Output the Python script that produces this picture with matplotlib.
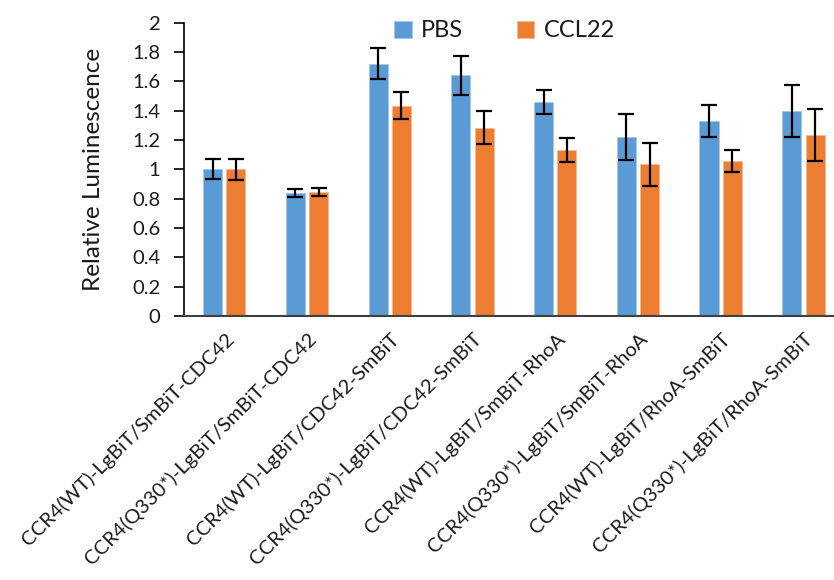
import matplotlib
matplotlib.use("Agg")
import matplotlib.pyplot as plt
import numpy as np

categories = [
    "CCR4(WT)-LgBiT/SmBiT-CDC42",
    "CCR4(Q330*)-LgBiT/SmBiT-CDC42",
    "CCR4(WT)-LgBiT/CDC42-SmBiT",
    "CCR4(Q330*)-LgBiT/CDC42-SmBiT",
    "CCR4(WT)-LgBiT/SmBiT-RhoA",
    "CCR4(Q330*)-LgBiT/SmBiT-RhoA",
    "CCR4(WT)-LgBiT/RhoA-SmBiT",
    "CCR4(Q330*)-LgBiT/RhoA-SmBiT",
]
pbs = [1.00, 0.84, 1.72, 1.64, 1.46, 1.22, 1.33, 1.40]
pbs_err = [0.068, 0.026, 0.105, 0.13, 0.083, 0.157, 0.109, 0.177]
ccl22 = [1.00, 0.845, 1.435, 1.285, 1.13, 1.036, 1.057, 1.236]
ccl22_err = [0.07, 0.03, 0.09, 0.115, 0.082, 0.147, 0.077, 0.176]
yticks = [0, 0.2, 0.4, 0.6, 0.8, 1, 1.2, 1.4, 1.6, 1.8, 2]
ytick_labels = ["0", "0.2", "0.4", "0.6", "0.8", "1", "1.2", "1.4", "1.6", "1.8", "2"]

plt.rcParams['font.family'] = ['Lato', 'DejaVu Sans']
txtc = '#1a1a1a'

fig = plt.figure(figsize=(8.34, 5.80), dpi=100)
ax = fig.add_axes([184/834, (580-316)/580, (834-184)/834, (316-22.7)/580])

x = np.arange(len(categories))
w = 0.23
off = 0.141
ek = dict(ecolor='black', elinewidth=1.6, capsize=5.5, capthick=1.6)
ax.bar(x - off, pbs, w, yerr=pbs_err, color='#5B9BD5', edgecolor='#A9C8EA', linewidth=0.6,
       label='PBS', error_kw=ek, zorder=2)
ax.bar(x + off, ccl22, w, yerr=ccl22_err, color='#ED7D31', edgecolor='#F5B993', linewidth=0.6,
       label='CCL22', error_kw=ek, zorder=2)

ax.set_xlim(-0.487, 7.37)
ax.set_ylim(0, 2)
ax.set_yticks(yticks)
ax.set_yticklabels(ytick_labels, fontsize=14.5, color=txtc)
ax.set_xticks(x)
ax.set_xticklabels(categories, rotation=45, ha='right', rotation_mode='anchor',
                   fontsize=14.5, color=txtc)
ax.tick_params(axis='x', length=0, pad=10)
ax.tick_params(axis='y', length=7, width=1.2, pad=10, direction='out')
for s in ['top', 'right']:
    ax.spines[s].set_visible(False)
ax.spines['left'].set_color('black')
ax.spines['left'].set_linewidth(1.2)
ax.spines['bottom'].set_color('#404040')
ax.spines['bottom'].set_linewidth(1.5)
ax.set_ylabel('Relative Luminescence', fontsize=17.5, color=txtc, labelpad=20)

leg = ax.legend(loc='upper center', bbox_to_anchor=(0.493, 1.08), ncol=2, frameon=False,
                fontsize=17, handlelength=0.75, handleheight=0.75, columnspacing=2.25,
                handletextpad=0.4)
for t in leg.get_texts():
    t.set_color(txtc)

fig.savefig('out.png', dpi=100)
